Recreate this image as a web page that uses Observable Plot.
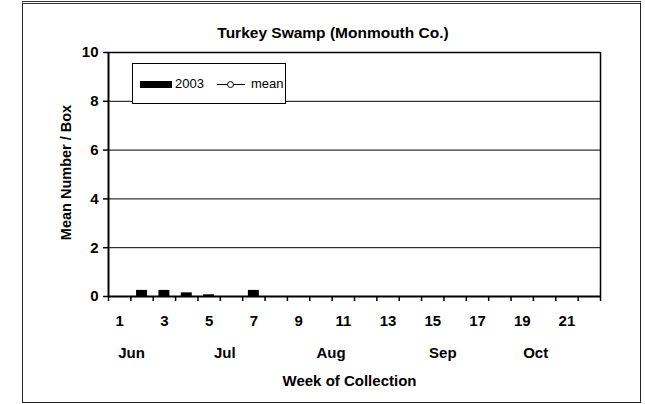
<!DOCTYPE html>
<html>
<head>
<meta charset="utf-8">
<script src="https://cdn.jsdelivr.net/npm/d3@7"></script>
<script src="https://cdn.jsdelivr.net/npm/@observablehq/plot@0.6"></script>
<style>
  html, body { margin: 0; padding: 0; background: #fff; }
  #wrap { position: relative; width: 645px; height: 404px; font-family: "Liberation Sans", Arial, sans-serif; }
  #wrap svg { position: absolute; left: 0; top: 0; }
  #frame { position: absolute; left: 22px; top: 1px; width: 617px; height: 398px; border: 1.5px solid #222; border-top: 3px double #333; pointer-events: none; }
  #legend { position: absolute; left: 132px; top: 63px; width: 154px; height: 41px; border: 1px solid #000; background: #fff; box-sizing: border-box; font-size: 13px; }
  #legend .sw { position: absolute; left: 7px; top: 17px; width: 32px; height: 7px; background: #000; }
  #legend .t1 { position: absolute; left: 42px; top: 12px; }
  #legend .ln { position: absolute; left: 84px; top: 20px; width: 28px; height: 1px; background: #000; }
  #legend .dot { position: absolute; left: 94px; top: 17px; width: 5px; height: 5px; border: 1px solid #000; border-radius: 50%; background: #fff; }
  #legend .t2 { position: absolute; left: 118px; top: 12px; }
</style>
</head>
<body>
<div id="wrap"></div>
<script>
const weeks = d3.range(1, 23);
const counts2003 = [0, 0.25, 0.25, 0.15, 0.07, 0, 0.25, 0, 0, 0, 0, 0, 0, 0, 0, 0, 0, 0, 0, 0, 0, 0];
const weekLabels = [1, 3, 5, 7, 9, 11, 13, 15, 17, 19, 21];
const yTicks = [0, 2, 4, 6, 8, 10];
const months = ["Jun", "Jul", "Aug", "Sep", "Oct"];
const monthWeeks = [1.53, 5.7, 10.45, 15.45, 19.6];
const title = "Turkey Swamp (Monmouth Co.)";
const yTitle = "Mean Number / Box";
const xTitle = "Week of Collection";

const data = weeks.map((w, i) => ({week: w, count: counts2003[i]}));
const monthData = months.map((m, i) => ({month: m, week: monthWeeks[i]}));
const boundaries = d3.range(0.5, 23, 1);

const chart = Plot.plot({
  width: 645,
  height: 404,
  marginLeft: 108,
  marginRight: 45,
  marginTop: 52,
  marginBottom: 108,
  style: "font-family: 'Liberation Sans', Arial, sans-serif; font-size: 15px; font-weight: bold; color: #000; background: transparent;",
  x: {type: "linear", domain: [0.5, 22.5]},
  y: {domain: [0, 10]},
  marks: [
    Plot.ruleY([2, 4, 6, 8], {stroke: "#000", strokeWidth: 1}),
    Plot.ruleY([10], {stroke: "#000", strokeWidth: 1.5}),
    Plot.ruleX([22.5], {stroke: "#000", strokeWidth: 1.5}),
    Plot.rectY(data, {x1: d => d.week - 0.245, x2: d => d.week + 0.245, y: "count", fill: "#000"}),
    Plot.ruleX([0.5], {stroke: "#000", strokeWidth: 2}),
    Plot.ruleY([0], {stroke: "#000", strokeWidth: 2}),
    Plot.axisY(yTicks, {tickSize: 5, tickPadding: 5, strokeWidth: 1.5, fontSize: 15, label: null}),
    Plot.axisX(boundaries, {tickSize: 5, strokeWidth: 1.5, tickFormat: () => "", label: null}),
    Plot.axisX(weekLabels, {tickSize: 0, tickPadding: 19, fontSize: 15, label: null}),
    Plot.text(monthData, {x: "week", frameAnchor: "bottom", lineAnchor: "middle", dy: 56.7, text: "month", fontSize: 15, fontWeight: "bold"}),
    Plot.text([title], {frameAnchor: "top", textAnchor: "middle", lineAnchor: "middle", dx: -21.5, dy: -19.5, fontSize: 15.5, fontWeight: "bold"}),
    Plot.text([xTitle], {frameAnchor: "bottom", textAnchor: "middle", lineAnchor: "middle", dx: -5, dy: 84.5, fontSize: 15, fontWeight: "bold"}),
    Plot.text([yTitle], {frameAnchor: "left", textAnchor: "middle", lineAnchor: "middle", dx: -42, dy: -2, rotate: -90, fontSize: 14.5, fontWeight: "bold"})
  ]
});

const wrap = document.getElementById("wrap");
wrap.appendChild(chart);
const frame = document.createElement("div");
frame.id = "frame";
wrap.appendChild(frame);
const legend = document.createElement("div");
legend.id = "legend";
legend.innerHTML = '<div class="sw"></div><div class="t1">2003</div><div class="ln"></div><div class="dot"></div><div class="t2">mean</div>';
wrap.appendChild(legend);
</script>
</body>
</html>
